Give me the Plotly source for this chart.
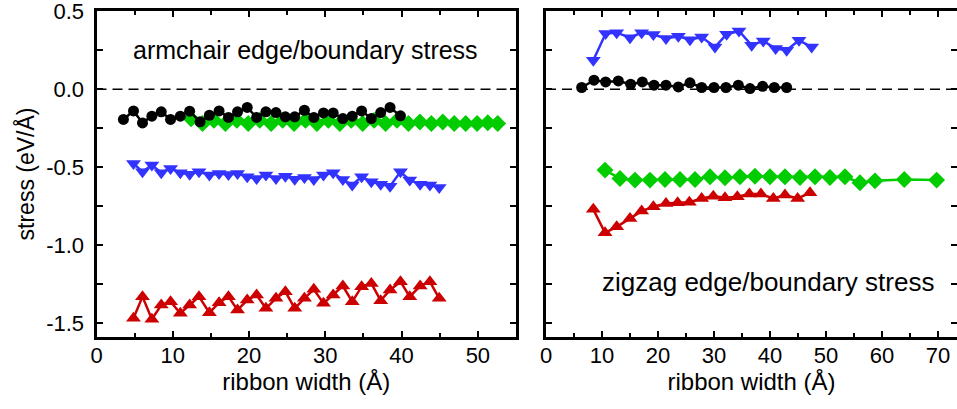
import plotly.graph_objects as go

# ---------------- data ----------------
# Armchair panel (left)
arm_black_x = [3.53, 4.85, 6.03, 7.26, 8.49, 9.71, 10.99, 12.21, 13.58, 14.80, 16.07, 17.30, 18.49, 19.76,
               20.99, 22.21, 23.53, 24.76, 25.99, 27.26, 28.49, 29.76, 31.03, 32.30, 33.53, 34.76, 36.03,
               37.26, 38.49, 39.85]
arm_black_y = [-0.194, -0.139, -0.216, -0.173, -0.145, -0.194, -0.173, -0.141, -0.209, -0.167, -0.139,
               -0.181, -0.145, -0.117, -0.181, -0.145, -0.150, -0.177, -0.177, -0.135, -0.181, -0.152,
               -0.152, -0.188, -0.173, -0.139, -0.188, -0.150, -0.117, -0.171]

arm_green_x = [12.4, 13.9, 15.4, 16.9, 18.4, 19.9, 21.4, 22.9, 24.4, 25.9, 27.4, 28.9, 30.4, 31.9,
               33.4, 34.9, 36.4, 37.9, 39.4, 40.9, 42.4, 43.9, 45.4, 46.9, 48.4, 49.9, 51.3, 52.6]
arm_green_y = [-0.19, -0.22, -0.20, -0.22, -0.20, -0.22, -0.20, -0.22, -0.20, -0.22, -0.20, -0.22,
               -0.20, -0.22, -0.20, -0.22, -0.20, -0.22, -0.20, -0.22, -0.21, -0.22, -0.21, -0.22,
               -0.22, -0.22, -0.215, -0.22]

arm_blue_x = [4.85, 6.03, 7.26, 8.49, 9.71, 10.99, 12.21, 13.44, 14.80, 16.07, 17.30, 18.49, 19.76,
              20.99, 22.21, 23.53, 24.76, 25.99, 27.26, 28.49, 29.76, 31.03, 32.30, 33.53, 34.76, 36.03,
              37.26, 38.49, 39.85, 41.07, 42.43, 43.71, 44.93]
arm_blue_y = [-0.476, -0.530, -0.487, -0.536, -0.508, -0.536, -0.545, -0.530, -0.551, -0.541, -0.547,
              -0.541, -0.562, -0.573, -0.551, -0.573, -0.558, -0.577, -0.566, -0.579, -0.551, -0.536,
              -0.579, -0.615, -0.562, -0.594, -0.609, -0.622, -0.530, -0.583, -0.609, -0.615, -0.630]

arm_red_x = [4.85, 6.03, 7.26, 8.49, 9.71, 10.99, 12.21, 13.44, 14.80, 16.07, 17.30, 18.49, 19.76,
             20.99, 22.21, 23.53, 24.76, 25.99, 27.26, 28.49, 29.76, 31.03, 32.30, 33.53, 34.76, 36.03,
             37.26, 38.49, 39.85, 41.07, 42.43, 43.71, 44.93]
arm_red_y = [-1.470, -1.331, -1.476, -1.385, -1.363, -1.438, -1.385, -1.331, -1.434, -1.370, -1.331,
             -1.417, -1.353, -1.321, -1.406, -1.342, -1.299, -1.406, -1.342, -1.284, -1.374, -1.321,
             -1.263, -1.363, -1.267, -1.246, -1.357, -1.288, -1.235, -1.331, -1.263, -1.235, -1.342]

# Zigzag panel (right)
zz_black_x = [6.37, 8.57, 10.65, 12.92, 15.12, 17.20, 19.29, 21.43, 23.63, 25.71, 27.80, 30.00, 32.14,
              34.35, 36.43, 38.69, 40.77, 42.98]
zz_black_y = [0.011, 0.058, 0.047, 0.053, 0.032, 0.047, 0.026, 0.026, 0.015, 0.041, 0.011, 0.011, 0.011,
              0.026, 0.004, 0.019, 0.011, 0.011]

zz_blue_x = [8.45, 10.65, 12.62, 15.00, 17.08, 19.17, 21.43, 23.63, 25.71, 27.80, 30.18, 32.26, 34.46,
             36.73, 38.80, 41.01, 42.98, 45.18, 47.44]
zz_blue_y = [0.186, 0.357, 0.363, 0.331, 0.363, 0.351, 0.325, 0.340, 0.318, 0.335, 0.271, 0.353, 0.374,
             0.282, 0.310, 0.261, 0.250, 0.314, 0.271]

zz_green_x = [10.54, 13.21, 15.89, 18.57, 21.25, 23.93, 26.61, 29.29, 31.96, 34.64, 37.32, 40.00, 42.68,
              45.36, 48.04, 50.71, 53.39, 56.07, 58.75, 63.99, 69.76]
zz_green_y = [-0.519, -0.573, -0.583, -0.583, -0.579, -0.579, -0.579, -0.562, -0.568, -0.562, -0.558,
              -0.562, -0.562, -0.566, -0.562, -0.566, -0.562, -0.600, -0.588, -0.579, -0.583]

zz_red_x = [8.45, 10.54, 12.62, 15.00, 17.08, 19.17, 21.43, 23.51, 25.60, 27.80, 29.88, 31.96, 34.17,
            36.31, 38.39, 40.60, 42.68, 44.94, 47.14]
zz_red_y = [-0.771, -0.921, -0.883, -0.829, -0.782, -0.754, -0.733, -0.729, -0.725, -0.701, -0.686,
            -0.697, -0.690, -0.673, -0.673, -0.701, -0.679, -0.701, -0.665]

y_ticks = [-1.5, -1.0, -0.5, 0.0, 0.5]
y_tick_text = ["-1.5", "-1.0", "-0.5", "0.0", "0.5"]
x_left_ticks = [0, 10, 20, 30, 40, 50]
x_right_ticks = [0, 10, 20, 30, 40, 50, 60, 70]

# ---------------- styling ----------------
BLACK = "#000000"
GREEN = "#00cc00"
BLUE = "#3333ff"
RED = "#cc0000"
FONT = "Liberation Sans, Arial, sans-serif"

W, H = 957, 409
L_X0, L_X1 = 96.5 / W, 516 / W
R_X0, R_X1 = 546 / W, 1.0
Y0, Y1 = 1 - 337 / H, 1 - 11 / H

fig = go.Figure()


def add(x, y, color, symbol, size, xa, ya):
    fig.add_trace(go.Scatter(
        x=x, y=y, mode="lines+markers", xaxis=xa, yaxis=ya,
        line=dict(color=color, width=2.5),
        marker=dict(color=color, symbol=symbol, size=size, line=dict(width=0)),
        showlegend=False, hoverinfo="x+y"))


add(arm_green_x, arm_green_y, GREEN, "diamond", 13, "x", "y")
add(arm_black_x, arm_black_y, BLACK, "circle", 11, "x", "y")
add(arm_blue_x, arm_blue_y, BLUE, "triangle-down", 13, "x", "y")
add(arm_red_x, arm_red_y, RED, "triangle-up", 13, "x", "y")

add(zz_black_x, zz_black_y, BLACK, "circle", 11, "x2", "y2")
add(zz_blue_x, zz_blue_y, BLUE, "triangle-down", 13, "x2", "y2")
add(zz_green_x, zz_green_y, GREEN, "diamond", 13, "x2", "y2")
add(zz_red_x, zz_red_y, RED, "triangle-up", 13, "x2", "y2")

axis_common = dict(
    showline=True, linecolor="black", linewidth=3, mirror="allticks",
    ticks="inside", ticklen=6, tickwidth=2, tickcolor="black",
    showgrid=False, zeroline=False, automargin=False, ticklabeloverflow="allow",
    tickfont=dict(family=FONT, size=22, color="black"),
)

fig.update_layout(
    width=W, height=H,
    margin=dict(l=0, r=0, t=0, b=0),
    paper_bgcolor="white", plot_bgcolor="white",
    font=dict(family=FONT, color="black"),
    xaxis=dict(domain=[L_X0, L_X1], range=[0, 55], tickmode="array", tickvals=x_left_ticks,
               minor=dict(dtick=5, tick0=0, ticks="inside", ticklen=4, tickwidth=2, tickcolor="black"),
               title=dict(text="ribbon width (Å)", font=dict(family=FONT, size=24), standoff=6),
               ticklabelstandoff=-3,
               anchor="y", **axis_common),
    yaxis=dict(domain=[Y0, Y1], range=[-1.59, 0.502], tickmode="array", tickvals=y_ticks,
               ticktext=y_tick_text,
               minor=dict(dtick=0.25, tick0=0, ticks="inside", ticklen=6, tickwidth=2, tickcolor="black"),
               title=dict(text="stress (eV/Å)", font=dict(family=FONT, size=23), standoff=6),
               ticklabelstandoff=5,
               anchor="x", **axis_common),
    xaxis2=dict(domain=[R_X0, R_X1], range=[0, 73.4], tickmode="array", tickvals=x_right_ticks,
                minor=dict(dtick=5, tick0=0, ticks="inside", ticklen=4, tickwidth=2, tickcolor="black"),
                title=dict(text="ribbon width (Å)", font=dict(family=FONT, size=24), standoff=6),
                ticklabelstandoff=-3,
                anchor="y2", **axis_common),
    yaxis2=dict(domain=[Y0, Y1], range=[-1.59, 0.502], tickmode="array", tickvals=y_ticks,
                minor=dict(dtick=0.25, tick0=0, ticks="inside", ticklen=6, tickwidth=2, tickcolor="black"),
                showticklabels=False,
                anchor="x2", **axis_common),
)

# dashed zero lines
fig.add_shape(type="line", xref="x", yref="y", x0=0, x1=55, y0=0, y1=0,
              line=dict(color="black", width=1.5, dash="10px,6px"), layer="below")
fig.add_shape(type="line", xref="x2", yref="y2", x0=0, x1=73.4, y0=0, y1=0,
              line=dict(color="black", width=1.5, dash="10px,6px"), layer="below")

fig.add_annotation(text="armchair edge/boundary stress", xref="x", yref="y", x=27.4, y=0.25,
                   showarrow=False, font=dict(family=FONT, size=25, color="black"))
fig.add_annotation(text="zigzag edge/boundary stress", xref="x2", yref="y2", x=39.7, y=-1.24,
                   showarrow=False, font=dict(family=FONT, size=26, color="black"))

fig.write_html("out.html", config={"displayModeBar": False},
               post_script="document.body.style.margin='0';document.body.style.overflow='hidden';")
